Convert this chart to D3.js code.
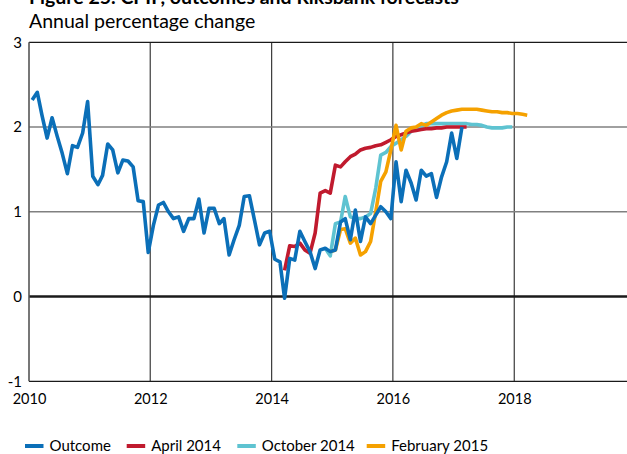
<!DOCTYPE html>
<html>
<head>
<meta charset="utf-8">
<script src="https://cdn.jsdelivr.net/npm/d3@7"></script>
<style>
	body { margin: 0; background: #fff; }
	svg { display: block; font-family: Lato, "Open Sans", sans-serif; }
</style>
</head>
<body>
<div id="chart"></div>
<script>
// Monthly series, first value is January 2010 (month index 0)
var outcomeStart = 0;
var outcome = [2.32,2.41,2.14,1.87,2.11,1.89,1.69,1.45,1.78,1.76,1.93,2.30,
	1.42,1.32,1.43,1.80,1.73,1.46,1.61,1.60,1.53,1.13,1.12,0.52,
	0.84,1.08,1.11,1.00,0.92,0.94,0.77,0.92,0.92,1.15,0.75,1.04,
	1.04,0.86,0.92,0.49,0.67,0.84,1.18,1.19,0.90,0.61,0.75,0.77,
	0.44,0.41,-0.02,0.45,0.43,0.77,0.65,0.53,0.33,0.55,0.57,0.53,
	0.55,0.88,0.92,0.67,1.02,0.65,0.94,0.86,0.96,1.06,1.00,0.92,
	1.59,1.12,1.49,1.34,1.14,1.49,1.42,1.45,1.17,1.41,1.59,1.93,
	1.63,2.00];

var april2014Start = 50;
var april2014 = [0.31,0.60,0.59,0.63,0.55,0.51,0.75,1.22,1.25,1.22,
	1.55,1.53,1.59,1.65,1.68,1.73,1.75,1.76,1.78,1.79,
	1.82,1.85,1.89,1.91,1.93,1.95,1.96,1.97,1.98,1.98,
	1.99,1.99,2.00,2.00,2.00,2.00,2.00];

var october2014Start = 58;
var october2014 = [0.57,0.48,0.86,0.88,1.18,0.94,0.92,0.92,0.94,0.98,
	1.28,1.67,1.70,1.77,1.81,1.85,1.89,1.95,1.99,2.01,
	2.04,2.04,2.04,2.04,2.04,2.04,2.04,2.04,2.04,2.03,
	2.03,2.02,2.00,1.99,1.99,1.99,2.00,2.00];

var february2015Start = 59;
var february2015 = [0.53,0.55,0.79,0.80,0.63,0.69,0.49,0.53,0.65,1.00,
	1.36,1.47,1.73,2.02,1.73,1.95,1.99,2.00,2.04,2.02,
	2.06,2.10,2.14,2.17,2.19,2.20,2.21,2.21,2.21,2.21,
	2.20,2.19,2.18,2.18,2.17,2.17,2.16,2.16,2.15,2.14];

var xTicks = [2010, 2012, 2014, 2016, 2018];
var yTicks = [-1, 0, 1, 2, 3];
var legendLabels = ["Outcome", "April 2014", "October 2014", "February 2015"];
var colors = ["#0b6fb8", "#c01a2e", "#5ec3d1", "#f5a100"];

var titleText = "Figure 25. CPIF, outcomes and Riksbank forecasts";
var subtitleText = "Annual percentage change";

function createChart(){
	var width = 627, height = 454;
	// plot area, the x axis runs on to 2020 past the right edge of the window
	var margin = {left: 29, top: 42.3, bottom: 72.7};

	var svg = d3.select("#chart")
				.append("svg")
				.attr("width", width)
				.attr("height", height);

	var xScale = d3.scaleTime()
				.domain([new Date(2010, 0, 1), new Date(2020, 0, 1)])
				.range([margin.left, 635.5]);
	var yScale = d3.scaleLinear()
				.domain([-1, 3])
				.range([height - margin.bottom, margin.top]);

	// turn a start month + values into points
	function toPoints(start, values){
		return values.map(function(v, i){
			var m = start + i;
			return {date: new Date(2010 + Math.floor(m / 12), m % 12, 20), value: v};
		});
	}

	// title is cut off by the top of the picture, as in the original
	svg.append("text")
		.attr("x", 29)
		.attr("y", 4)
		.attr("font-weight", "bold")
		.attr("font-size", "19.5px")
		.attr("fill", "#000")
		.text(titleText);
	svg.append("text")
		.attr("x", 29)
		.attr("y", 27.5)
		.attr("font-size", "19.5px")
		.attr("fill", "#000")
		.text(subtitleText);

	// vertical grid lines
	svg.append("g")
		.selectAll("line")
		.data(xTicks.slice(1))
		.enter().append("line")
		.attr("x1", function(d){ return xScale(new Date(d, 0, 1)); })
		.attr("x2", function(d){ return xScale(new Date(d, 0, 1)); })
		.attr("y1", yScale(3))
		.attr("y2", yScale(-1))
		.attr("stroke", "#3a3a3a")
		.attr("stroke-width", 1.2);

	// horizontal grid lines
	svg.append("g")
		.selectAll("line")
		.data(yTicks)
		.enter().append("line")
		.attr("x1", margin.left)
		.attr("x2", width)
		.attr("y1", function(d){ return yScale(d); })
		.attr("y2", function(d){ return yScale(d); })
		.attr("stroke", function(d){ return (d == 1 || d == 2) ? "#808080" : "#1a1a1a"; })
		.attr("stroke-width", function(d){ return d == 0 ? 2.6 : (d == 1 || d == 2 ? 1.6 : 1.3); });

	// left axis line
	svg.append("line")
		.attr("x1", margin.left).attr("x2", margin.left)
		.attr("y1", yScale(3)).attr("y2", yScale(-1))
		.attr("stroke", "#555")
		.attr("stroke-width", 1.6);

	// y axis labels (plain hyphen for the minus)
	var yAxis = d3.axisLeft(yScale)
				.tickValues(yTicks)
				.tickFormat(function(d){ return String(d); })
				.tickSize(0).tickPadding(7);
	var gy = svg.append("g")
		.attr("transform", "translate(" + margin.left + ",0)")
		.call(yAxis);
	gy.select(".domain").remove();
	gy.selectAll("text").attr("font-size", "15px").attr("font-family", "Lato").attr("fill", "#000");

	// x axis labels
	var xAxis = d3.axisBottom(xScale)
				.tickValues(xTicks.map(function(d){ return new Date(d, 0, 1); }))
				.tickFormat(d3.timeFormat("%Y"))
				.tickSize(0).tickPadding(12);
	var gx = svg.append("g")
		.attr("transform", "translate(0," + yScale(-1) + ")")
		.call(xAxis);
	gx.select(".domain").remove();
	gx.selectAll("text").attr("font-size", "14.5px").attr("font-family", "Lato").attr("fill", "#000");

	var line = d3.line()
				.x(function(d){ return xScale(d.date); })
				.y(function(d){ return yScale(d.value); });

	// forecasts first, outcome on top
	var series = [
		{points: toPoints(october2014Start, october2014), color: colors[2]},
		{points: toPoints(april2014Start, april2014), color: colors[1]},
		{points: toPoints(february2015Start, february2015), color: colors[3]},
		{points: toPoints(outcomeStart, outcome), color: colors[0]}
	];
	svg.append("g")
		.selectAll("path")
		.data(series)
		.enter().append("path")
		.attr("d", function(d){ return line(d.points); })
		.attr("fill", "none")
		.attr("stroke", function(d){ return d.color; })
		.attr("stroke-width", 3.6)
		.attr("stroke-linejoin", "round");

	// legend
	var legendX = [25, 126.7, 237.3, 366.7];
	var legend = svg.append("g")
		.selectAll("g")
		.data(legendLabels)
		.enter().append("g")
		.attr("transform", function(d, i){ return "translate(" + legendX[i] + ",446)"; });
	legend.append("line")
		.attr("x1", 0).attr("x2", 18.5)
		.attr("stroke", function(d, i){ return colors[i]; })
		.attr("stroke-width", 4);
	legend.append("text")
		.attr("x", 24.5)
		.attr("y", 5)
		.attr("font-size", "15px")
		.attr("fill", "#000")
		.text(function(d){ return d; });
}

createChart();
</script>
</body>
</html>
